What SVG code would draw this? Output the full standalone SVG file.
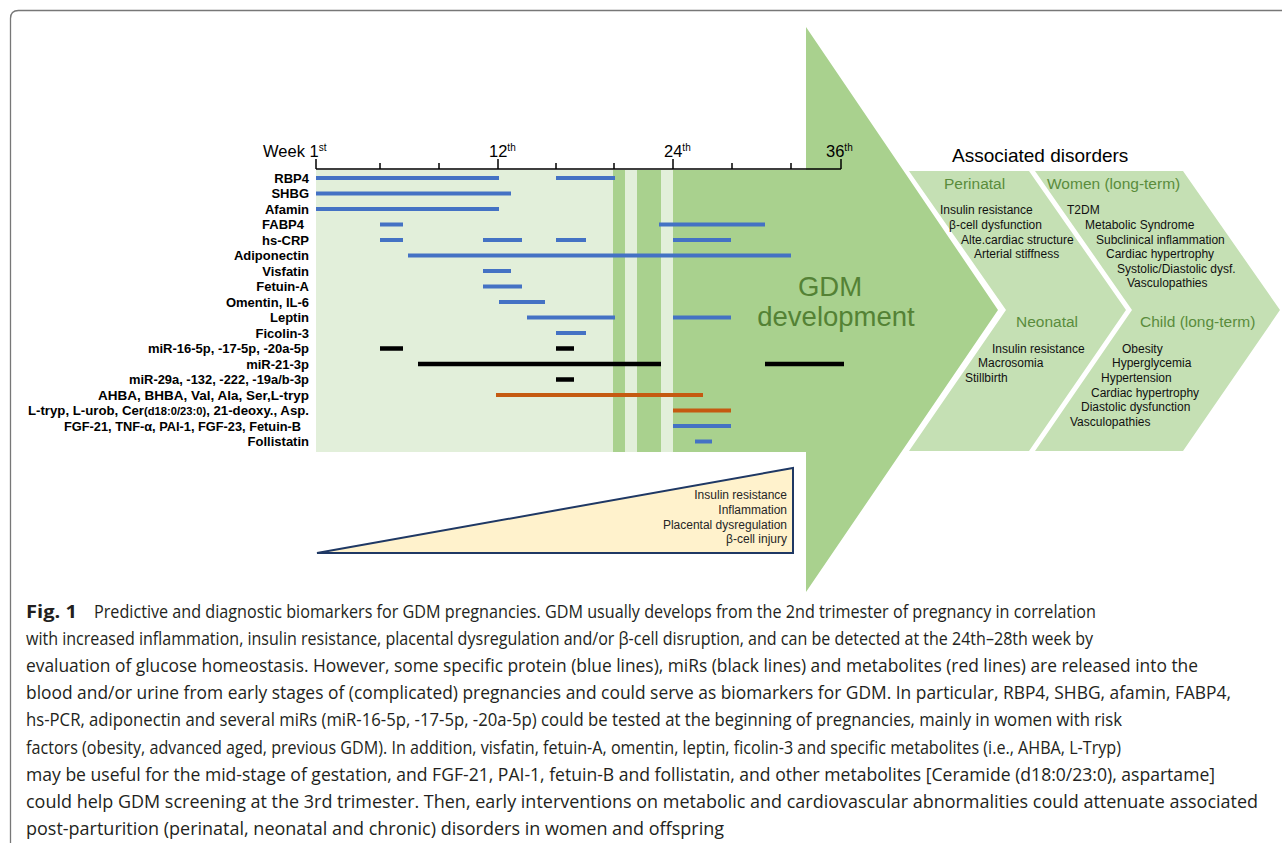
<svg xmlns="http://www.w3.org/2000/svg" width="1282" height="843" viewBox="0 0 1282 843">
<style>
.lbl{font-family:"Liberation Sans",Arial,sans-serif;font-weight:bold;font-size:13px;text-anchor:end;fill:#000}
.sm{font-size:11px}
.bar{stroke-width:4;fill:none}
.bl{stroke:#4472c4}
.bk{stroke:#000;stroke-width:4.5}
.or{stroke:#c55a11}
.ax{font-family:"Liberation Sans",Arial,sans-serif;font-size:16.5px;fill:#000}
.sup{font-size:10px}
.tt{font-family:"Liberation Sans",Arial,sans-serif;font-size:15.5px;fill:#5a8c3c}
.li{font-family:"Liberation Sans",Arial,sans-serif;font-size:12px;fill:#111}
.tri{font-family:"Liberation Sans",Arial,sans-serif;font-size:12px;fill:#262626;text-anchor:end}
.cap{font-family:"Open Sans","Noto Sans",sans-serif;font-size:17.5px;fill:#231f20}
.chev{fill:#c5e0b4}
</style>
<path d="M10.5 843V18.5Q10.5 10.5 18.5 10.5H1282" fill="none" stroke="#777" stroke-width="1.3"/>

<g id="timeline-bg">
<rect x="316" y="170" width="357" height="282" fill="#e2efda"/>
<rect x="613" y="170" width="12" height="282" fill="#a9d18e"/>
<rect x="637" y="170" width="24" height="282" fill="#a9d18e"/>
</g>
<g id="gdm-arrow">
<polygon points="673,170 806,170 806,27 998,310 806,592 806,452 673,452" fill="#a9d18e"/>
<text x="830" y="296" font-family="Liberation Sans, Arial, sans-serif" font-size="27.5" fill="#548235" text-anchor="middle">GDM</text>
<text x="836" y="326" font-family="Liberation Sans, Arial, sans-serif" font-size="27.5" fill="#548235" text-anchor="middle">development</text>
</g>

<g id="axis">
<path d="M316 169H841M316 169V159M380 169V163M439 169V163M498 169V159M556 169V163M614 169V163M673 169V159M732 169V163M791 169V163M841 169V159" stroke="#000" stroke-width="1.5" fill="none"/>
<text class="ax" x="263" y="157">Week 1<tspan class="sup" dy="-6">st</tspan></text>
<text class="ax" x="489" y="157">12<tspan class="sup" dy="-6">th</tspan></text>
<text class="ax" x="664" y="157">24<tspan class="sup" dy="-6">th</tspan></text>
<text class="ax" x="826" y="157">36<tspan class="sup" dy="-6">th</tspan></text>
</g>

<g id="connectors">
<path class="bar bl" d="M316 178H499M556 178H615"/>
<path class="bar bl" d="M316 193.5H511"/>
<path class="bar bl" d="M316 209H499"/>
<path class="bar bl" d="M380 224.5H403M659 224.5H765"/>
<path class="bar bl" d="M380 240H403M483 240H522M556 240H586M673 240H731"/>
<path class="bar bl" d="M408 255.5H791"/>
<path class="bar bl" d="M483 271H511"/>
<path class="bar bl" d="M483 286.5H522"/>
<path class="bar bl" d="M499 302H545"/>
<path class="bar bl" d="M527 317.5H615M673 317.5H731"/>
<path class="bar bl" d="M556 333H586"/>
<path class="bar bk" d="M380 348.5H403M556 348.5H574"/>
<path class="bar bk" d="M418 364H661M765 364H844"/>
<path class="bar bk" d="M556 379.5H574"/>
<path class="bar or" d="M496 395H703"/>
<path class="bar or" d="M673 410.5H731"/>
<path class="bar bl" d="M673 426H731"/>
<path class="bar bl" d="M695 441.5H712"/>
</g>

<g id="labels">
<text id="n-rbp4" class="lbl" x="309" y="182.7">RBP4</text>
<text id="n-shbg" class="lbl" x="309" y="198.2">SHBG</text>
<text id="n-afamin" class="lbl" x="309" y="213.7">Afamin</text>
<text id="n-fabp4" class="lbl" x="304" y="229.2">FABP4</text>
<text id="n-hscrp" class="lbl" x="309" y="244.7">hs-CRP</text>
<text id="n-adipo" class="lbl" x="309" y="260.2">Adiponectin</text>
<text id="n-visf" class="lbl" x="309" y="275.7">Visfatin</text>
<text id="n-fetA" class="lbl" x="309" y="291.2">Fetuin-A</text>
<text id="n-oment" class="lbl" x="309" y="306.7">Omentin, IL-6</text>
<text id="n-leptin" class="lbl" x="309" y="322.2">Leptin</text>
<text id="n-fico" class="lbl" x="309" y="337.7">Ficolin-3</text>
<text id="n-mir16" class="lbl" x="309" y="353.2">miR-16-5p, -17-5p, -20a-5p</text>
<text id="n-mir21" class="lbl" x="309" y="368.7">miR-21-3p</text>
<text id="n-mir29" class="lbl" x="309" y="384.2" textLength="180" lengthAdjust="spacingAndGlyphs">miR-29a, -132, -222, -19a/b-3p</text>
<text id="n-ahba" class="lbl" x="309" y="399.7" textLength="211" lengthAdjust="spacingAndGlyphs">AHBA, BHBA, Val, Ala, Ser,L-tryp</text>
<text id="n-ltryp" class="lbl" x="309" y="415.2" textLength="281" lengthAdjust="spacingAndGlyphs">L-tryp, L-urob, Cer<tspan class="sm">(d18:0/23:0)</tspan>, 21-deoxy., Asp.</text>
<text id="n-fgf" class="lbl" x="301" y="430.7" textLength="237" lengthAdjust="spacingAndGlyphs">FGF-21, TNF-α, PAI-1, FGF-23, Fetuin-B</text>
<text id="n-foll" class="lbl" x="309" y="446.2">Follistatin</text>
</g>

<g id="triangle">
<polygon points="317,553 793,468 793,553" fill="#fff2cc" stroke="#1f3864" stroke-width="2" stroke-linejoin="miter"/>
<text class="tri" x="787" y="499">Insulin resistance</text>
<text class="tri" x="787" y="513.5">Inflammation</text>
<text class="tri" x="787" y="529">Placental dysregulation</text>
<text class="tri" x="787" y="542.5">β-cell injury</text>
</g>

<text x="952" y="162" font-family="Liberation Sans, Arial, sans-serif" font-size="19" fill="#000">Associated disorders</text>

<g id="chevron-perinatal">
<polygon class="chev" points="909,171 1029,171 1126,310 1029,451 909,451 1006,310"/>
<text class="tt" x="944" y="189">Perinatal</text>
<text class="li" x="940" y="214">Insulin resistance</text>
<text class="li" x="949" y="229">β-cell dysfunction</text>
<text class="li" x="961" y="243.5">Alte.cardiac structure</text>
<text class="li" x="974" y="258">Arterial stiffness</text>
<text class="tt" x="1016" y="327">Neonatal</text>
<text class="li" x="992" y="353">Insulin resistance</text>
<text class="li" x="978" y="367">Macrosomia</text>
<text class="li" x="965" y="382">Stillbirth</text>
</g>

<g id="chevron-longterm">
<polygon class="chev" points="1035,171 1183,171 1280,310 1183,451 1035,451 1132,310"/>
<text class="tt" x="1047" y="189">Women (long-term)</text>
<text class="li" x="1067" y="214">T2DM</text>
<text class="li" x="1085" y="229">Metabolic Syndrome</text>
<text class="li" x="1096" y="243.5">Subclinical inflammation</text>
<text class="li" x="1106" y="258">Cardiac hypertrophy</text>
<text class="li" x="1117" y="272.5">Systolic/Diastolic dysf.</text>
<text class="li" x="1127" y="287">Vasculopathies</text>
<text class="tt" x="1140" y="327">Child (long-term)</text>
<text class="li" x="1122" y="353">Obesity</text>
<text class="li" x="1112" y="367">Hyperglycemia</text>
<text class="li" x="1101" y="382">Hypertension</text>
<text class="li" x="1091" y="396.5">Cardiac hypertrophy</text>
<text class="li" x="1081" y="411">Diastolic dysfunction</text>
<text class="li" x="1070" y="425.5">Vasculopathies</text>
</g>

<g id="caption">
<text class="cap" x="26" y="618" font-weight="bold" textLength="51" lengthAdjust="spacingAndGlyphs">Fig. 1</text>
<text class="cap" x="94" y="618" textLength="1002" lengthAdjust="spacingAndGlyphs">Predictive and diagnostic biomarkers for GDM pregnancies. GDM usually develops from the 2nd trimester of pregnancy in correlation</text>
<text class="cap" x="26" y="645" textLength="1067" lengthAdjust="spacingAndGlyphs">with increased inflammation, insulin resistance, placental dysregulation and/or β-cell disruption, and can be detected at the 24th–28th week by</text>
<text class="cap" x="26" y="672" textLength="1172" lengthAdjust="spacingAndGlyphs">evaluation of glucose homeostasis. However, some specific protein (blue lines), miRs (black lines) and metabolites (red lines) are released into the</text>
<text class="cap" x="26" y="699" textLength="1205" lengthAdjust="spacingAndGlyphs">blood and/or urine from early stages of (complicated) pregnancies and could serve as biomarkers for GDM. In particular, RBP4, SHBG, afamin, FABP4,</text>
<text class="cap" x="26" y="726" textLength="1096" lengthAdjust="spacingAndGlyphs">hs-PCR, adiponectin and several miRs (miR-16-5p, -17-5p, -20a-5p) could be tested at the beginning of pregnancies, mainly in women with risk</text>
<text class="cap" x="26" y="754" textLength="1095" lengthAdjust="spacingAndGlyphs">factors (obesity, advanced aged, previous GDM). In addition, visfatin, fetuin-A, omentin, leptin, ficolin-3 and specific metabolites (i.e., AHBA, L-Tryp)</text>
<text class="cap" x="26" y="781" textLength="1189" lengthAdjust="spacingAndGlyphs">may be useful for the mid-stage of gestation, and FGF-21, PAI-1, fetuin-B and follistatin, and other metabolites [Ceramide (d18:0/23:0), aspartame]</text>
<text class="cap" x="26" y="808" textLength="1232" lengthAdjust="spacingAndGlyphs">could help GDM screening at the 3rd trimester. Then, early interventions on metabolic and cardiovascular abnormalities could attenuate associated</text>
<text class="cap" x="26" y="835" textLength="698" lengthAdjust="spacingAndGlyphs">post-parturition (perinatal, neonatal and chronic) disorders in women and offspring</text>
</g>
</svg>
